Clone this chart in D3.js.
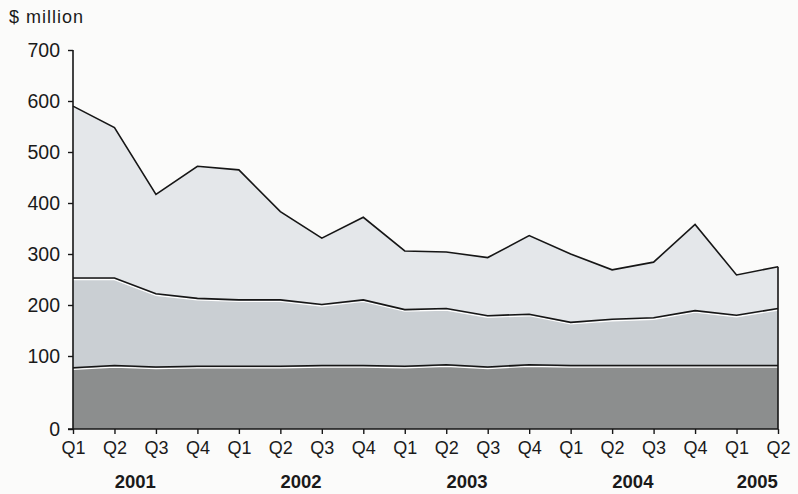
<!DOCTYPE html>
<html>
<head>
<meta charset="utf-8">
<script src="https://cdn.jsdelivr.net/npm/d3@7/dist/d3.min.js"></script>
<style>
  html, body { margin: 0; padding: 0; background: #fbfbfa; }
  svg { display: block; }
  text { font-family: "Liberation Sans", Arial, sans-serif; fill: #1a1a1a; }
</style>
</head>
<body>
<svg id="chart" width="798" height="494"></svg>
<script>
// ---- Data ----
const quarters = ["Q1","Q2","Q3","Q4","Q1","Q2","Q3","Q4","Q1","Q2","Q3","Q4","Q1","Q2","Q3","Q4","Q1","Q2"];
const years = ["2001","2002","2003","2004","2005"];
const yearSpans = [[0,3],[4,7],[8,11],[12,15],[16,17]];
const seriesBottom = [84,87,85,86,86,86,87,87,86,88,85,88,87,87,87,87,87,87];
const seriesMiddle = [169,166,137,127,124,124,114,123,105,105,94,94,79,85,88,102,93,106];
const seriesTop    = [337,295,195,259,255,173,130,162,115,111,114,154,134,97,109,169,79,82];
const yTicks = [0,100,200,300,400,500,600,700];
const unitLabel = "$ million";

// ---- Layout ----
const svg = d3.select("#chart");
const x = d3.scaleLinear().domain([0, quarters.length - 1]).range([73, 778]);
// piecewise scale: the 0-100 band is drawn taller, as in the source
const y = d3.scaleLinear().domain([0, 100, 700]).range([429, 356, 50]);

const table = quarters.map((q, i) => ({ i, a: seriesBottom[i], b: seriesMiddle[i], c: seriesTop[i] }));
const stack = d3.stack().keys(["a","b","c"]);
const layers = stack(table);
const fills = ["#8c8e8e", "#cacfd3", "#e4e7ea"];

const area = d3.area()
  .x(d => x(d.data.i))
  .y0(d => y(d[0]))
  .y1(d => y(d[1]));
const line = d3.line()
  .x(d => x(d.data.i))
  .y(d => y(d[1]));

svg.append("g").selectAll("path").data(layers).join("path")
  .attr("d", area).attr("fill", (d, i) => fills[i]);

// white highlight just under the lower boundaries
svg.append("g").selectAll("path").data(layers.slice(0, 2)).join("path")
  .attr("d", line).attr("fill", "none").attr("stroke", "#ffffff")
  .attr("stroke-width", 1.2).attr("transform", "translate(0,1.6)");

svg.append("g").selectAll("path").data(layers).join("path")
  .attr("d", line).attr("fill", "none").attr("stroke", "#161616")
  .attr("stroke-width", 1.6).attr("stroke-linejoin", "miter");

// right edge
const last = layers[2][quarters.length - 1];
svg.append("line")
  .attr("x1", x(quarters.length - 1)).attr("x2", x(quarters.length - 1))
  .attr("y1", y(last[1])).attr("y2", y(0))
  .attr("stroke", "#161616").attr("stroke-width", 1.6);

// ---- Axes ----
const yAxis = d3.axisLeft(y).tickValues(yTicks).tickSize(5).tickPadding(8).tickFormat(d3.format("d"));
const gy = svg.append("g").attr("transform", `translate(${x(0)},0)`).call(yAxis);
gy.select(".domain").attr("stroke", "#161616").attr("stroke-width", 1.6).attr("d", `M0,${y(700)}V${y(0)}`);
gy.selectAll(".tick line").attr("stroke", "#161616").attr("stroke-width", 1.4);
gy.selectAll(".tick text").attr("font-size", 19.5).style("font-family", "Liberation Sans, Arial, sans-serif").attr("fill", "#1a1a1a");

const xAxis = d3.axisBottom(x).tickValues(d3.range(quarters.length)).tickSize(5).tickPadding(7)
  .tickFormat(i => quarters[i]);
const gx = svg.append("g").attr("transform", `translate(0,${y(0)})`).call(xAxis);
gx.select(".domain").attr("stroke", "#161616").attr("stroke-width", 1.6).attr("d", `M${x(0)-5},0H${x(quarters.length-1)}`);
gx.selectAll(".tick line").attr("stroke", "#161616").attr("stroke-width", 1.4);
gx.selectAll(".tick text").attr("font-size", 18).style("font-family", "Liberation Sans, Arial, sans-serif").attr("fill", "#1a1a1a");

// year labels
svg.append("g").selectAll("text").data(years).join("text")
  .attr("x", (d, i) => (x(yearSpans[i][0]) + x(yearSpans[i][1])) / 2)
  .attr("y", 488)
  .attr("text-anchor", "middle")
  .attr("font-size", 18.5).attr("font-weight", "bold")
  .text(d => d);

// unit label
svg.append("text").attr("x", 9).attr("y", 23).attr("font-size", 18).attr("letter-spacing", 1).text(unitLabel);
</script>
</body>
</html>
